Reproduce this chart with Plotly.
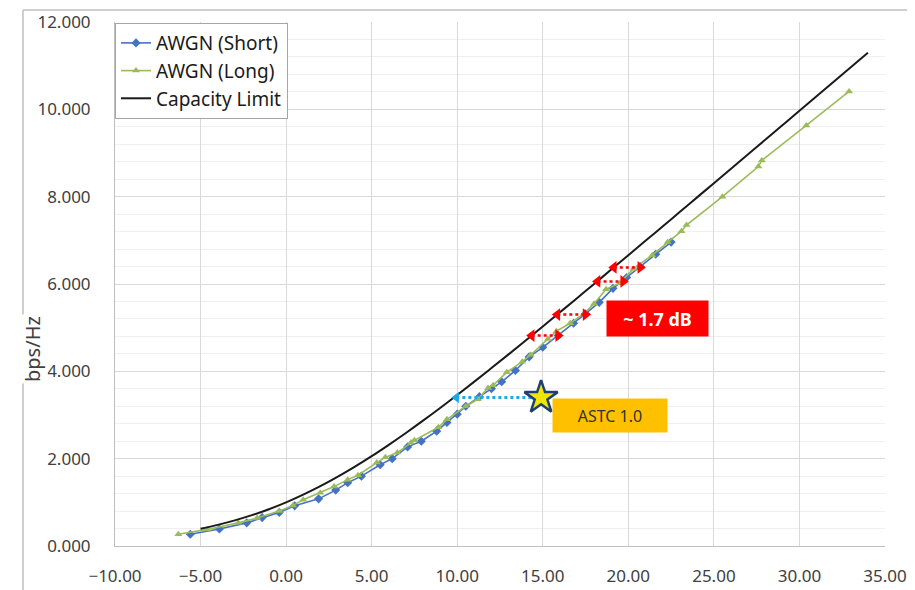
import plotly.graph_objects as go

# ---- data ----
cap_x = [-5, -4, -3, -2, -1, 0, 1, 2, 3, 4, 5, 6, 7, 8, 9, 10, 11, 12, 13, 14, 15, 16, 17, 18, 19,
         20, 21, 22, 23, 24, 25, 26, 27, 28, 29, 30, 31, 32, 33, 34]
cap_y = [0.396, 0.484, 0.586, 0.706, 0.843, 1.000, 1.176, 1.370, 1.583, 1.812, 2.057, 2.317, 2.588,
         2.870, 3.161, 3.459, 3.764, 4.075, 4.389, 4.707, 5.028, 5.351, 5.676, 6.002, 6.330, 6.658,
         6.988, 7.317, 7.647, 7.978, 8.309, 8.640, 8.972, 9.302, 9.635, 9.967, 10.299, 10.631,
         10.963, 11.295]

short_x = [-5.6, -3.9, -2.3, -1.4, -0.4, 0.5, 1.9, 2.9, 3.6, 4.4, 5.5, 6.2, 7.1, 7.9, 8.8, 9.4,
           10.0, 10.5, 11.3, 12.0, 12.6, 13.4, 14.2, 15.0, 15.9, 16.8, 17.5, 18.3, 19.1, 19.9,
           20.7, 21.6, 22.5]
short_y = [0.27, 0.39, 0.53, 0.65, 0.77, 0.92, 1.08, 1.28, 1.45, 1.60, 1.86, 2.00, 2.27, 2.40,
           2.63, 2.83, 3.02, 3.20, 3.42, 3.60, 3.76, 4.02, 4.33, 4.55, 4.82, 5.10, 5.32, 5.58,
           5.90, 6.15, 6.40, 6.68, 6.96]

long_x = [-6.3, -4.6, -2.8, -1.7, -0.4, 0.4, 1.0, 2.0, 2.8, 3.6, 4.2, 5.3, 5.8, 6.5, 7.3, 7.5,
          8.9, 9.4, 10.5, 11.2, 11.8, 12.1, 12.9, 13.8, 14.3, 15.3, 15.8, 16.6, 17.4, 18.0, 18.7,
          19.5, 20.3, 21.4, 22.3, 23.1, 23.4, 25.5, 27.6, 27.8, 30.4, 32.9]
long_y = [0.27, 0.38, 0.53, 0.64, 0.80, 0.93, 1.06, 1.22, 1.36, 1.52, 1.62, 1.91, 2.03, 2.14,
          2.37, 2.42, 2.72, 2.90, 3.20, 3.36, 3.62, 3.68, 3.98, 4.22, 4.38, 4.74, 4.92, 5.10,
          5.32, 5.55, 5.88, 6.02, 6.35, 6.66, 6.96, 7.21, 7.35, 8.00, 8.69, 8.83, 9.63, 10.41]

gap_y = [4.82, 5.30, 6.06, 6.38]
gap_x_left = [14.35, 15.85, 18.2, 19.15]
gap_x_right = [15.9, 17.5, 19.7, 20.7]

astc_x = [14.9]
astc_y = [3.40]
astc_cap_x = [9.95]

x_ticks = [-10, -5, 0, 5, 10, 15, 20, 25, 30, 35]
y_ticks = [0, 2, 4, 6, 8, 10, 12]

FONT = "Noto Sans"
fig = go.Figure()

fig.add_trace(go.Scatter(x=short_x, y=short_y, name="AWGN (Short)", mode="lines+markers",
                         line=dict(color="#4472C4", width=1.6),
                         marker=dict(symbol="diamond", size=7, color="#4472C4")))
fig.add_trace(go.Scatter(x=long_x, y=long_y, name="AWGN (Long)", mode="lines+markers",
                         line=dict(color="#9BBB59", width=1.6),
                         marker=dict(symbol="triangle-up", size=7, color="#9BBB59")))
fig.add_trace(go.Scatter(x=cap_x, y=cap_y, name="Capacity Limit", mode="lines",
                         line=dict(color="#1a1a1a", width=2, shape="spline")))

# red gap arrows
lx, ly = [], []
for a, b, y in zip(gap_x_left, gap_x_right, gap_y):
    lx += [a, b, None]
    ly += [y, y, None]
fig.add_trace(go.Scatter(x=lx, y=ly, mode="lines", showlegend=False,
                         line=dict(color="#FF0000", width=2.5, dash="dot")))
fig.add_trace(go.Scatter(x=gap_x_left, y=gap_y, mode="markers", showlegend=False,
                         marker=dict(symbol="triangle-left", size=11, color="#FF0000")))
fig.add_trace(go.Scatter(x=gap_x_right, y=gap_y, mode="markers", showlegend=False,
                         marker=dict(symbol="triangle-right", size=11, color="#FF0000")))

# ASTC arrow and star
fig.add_trace(go.Scatter(x=[astc_cap_x[0], astc_x[0]], y=[astc_y[0], astc_y[0]], mode="lines",
                         showlegend=False,
                         line=dict(color="#1FA8E8", width=3, dash="dot")))
fig.add_trace(go.Scatter(x=astc_cap_x, y=astc_y, mode="markers", showlegend=False,
                         marker=dict(symbol="triangle-left", size=10, color="#1FA8E8")))
fig.add_trace(go.Scatter(x=astc_x, y=astc_y, mode="markers", showlegend=False,
                         marker=dict(symbol="star", size=25, color="#F2E600",
                                     line=dict(color="#1F3F73", width=2.5))))

fig.add_annotation(x=21.7, y=5.2, xref="x", yref="y", text="<b>~ 1.7 dB</b>", showarrow=False,
                   bgcolor="#FF0000", width=99, height=33,
                   font=dict(family=FONT, size=18, color="white"))
fig.add_annotation(x=18.9, y=3.0, xref="x", yref="y", text="ASTC 1.0", showarrow=False,
                   bgcolor="#FFC000", width=112, height=31,
                   font=dict(family=FONT, size=16, color="#333333"))

# y title with white background over border line
fig.add_annotation(x=-82 / 770, y=0.376, xref="paper", yref="paper", text="bps/Hz",
                   xanchor="center", yanchor="middle",
                   showarrow=False, textangle=-90, bgcolor="white",
                   font=dict(family=FONT, size=20, color="#404040"))

# outer chart border (top & left)
fig.add_shape(type="line", xref="paper", yref="paper", x0=-92 / 770, x1=1.1,
              y0=536 / 524, y1=536 / 524, line=dict(color="#BFBFBF", width=1.5),
              layer="below")
fig.add_shape(type="line", xref="paper", yref="paper", x0=-92 / 770, x1=-92 / 770,
              y0=536 / 524, y1=-0.2, line=dict(color="#BFBFBF", width=1.5),
              layer="below")

# page body has an 8px margin: size the figure so the plot sits where the reference has it
fig.update_layout(
    width=907, height=582,
    margin=dict(l=107, r=30, t=14, b=44),
    paper_bgcolor="white", plot_bgcolor="white",
    font=dict(family=FONT, color="#404040"),
    legend=dict(x=0.0, y=0.998, xanchor="left", yanchor="top",
                bgcolor="white", bordercolor="#A6A6A6", borderwidth=1,
                font=dict(family=FONT, size=19, color="#1a1a1a"),
                tracegroupgap=0, itemwidth=30),
)
fig.update_xaxes(range=[-10, 35], tickvals=x_ticks, tickformat=".2f",
                 showgrid=True, gridcolor="#D9D9D9", gridwidth=1,
                 showline=True, linecolor="#BFBFBF", linewidth=1, mirror=False,
                 zeroline=False, ticks="", tickfont=dict(size=17, color="#404040"),
                 ticklabelstandoff=15, automargin=False)
fig.update_yaxes(range=[0, 12], tickvals=y_ticks, tickformat=".3f",
                 showgrid=True, gridcolor="#D9D9D9", gridwidth=1,
                 minor=dict(dtick=0.4, showgrid=True, gridcolor="#EFEFEF", gridwidth=1),
                 showline=True, linecolor="#BFBFBF", linewidth=1,
                 zeroline=False, ticks="", tickfont=dict(size=17, color="#404040"),
                 ticklabelstandoff=20, automargin=False)

fig.write_html("out.html")
